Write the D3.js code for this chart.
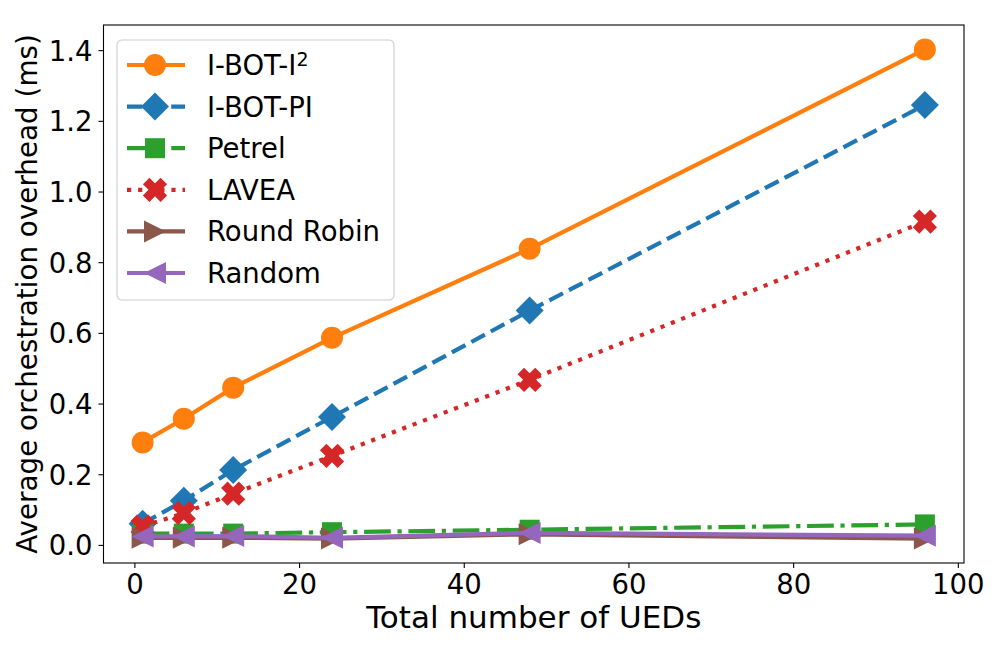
<!DOCTYPE html>
<html>
<head>
<meta charset="utf-8">
<script src="https://cdn.jsdelivr.net/npm/d3@7"></script>
<style>
  body { margin: 0; background: white; }
  svg text { font-family: "DejaVu Sans", sans-serif; fill: black; }
</style>
</head>
<body>
<div id="graf"></div>
<script>
// Datos
const ueds = [1, 6, 12, 24, 48, 96]
const ibotI2 = [0.29, 0.357, 0.445, 0.586, 0.838, 1.402]
const ibotPI = [0.06, 0.125, 0.212, 0.362, 0.663, 1.245]
const petrel = [0.032, 0.032, 0.032, 0.036, 0.043, 0.058]
const lavea = [0.052, 0.09, 0.145, 0.252, 0.467, 0.915]
const roundRobin = [0.02, 0.02, 0.02, 0.018, 0.03, 0.018]
const random = [0.024, 0.024, 0.025, 0.02, 0.034, 0.026]
const xTicks = [0, 20, 40, 60, 80, 100]
const yTicks = [0, 0.2, 0.4, 0.6, 0.8, 1.0, 1.2, 1.4]

const series = [
  { name: "I-BOT-I", sup: "2", values: ibotI2, color: "#ff7f0e", dash: null, marker: "circle" },
  { name: "I-BOT-PI", values: ibotPI, color: "#1f77b4", dash: "15.4,6.7", marker: "diamond" },
  { name: "Petrel", values: petrel, color: "#2ca02c", dash: "26.7,6.7,4.2,6.7", marker: "square" },
  { name: "LAVEA", values: lavea, color: "#d62728", dash: "4.2,6.9", marker: "x" },
  { name: "Round Robin", values: roundRobin, color: "#8c564b", dash: null, marker: "right" },
  { name: "Random", values: random, color: "#9467bd", dash: null, marker: "left" },
]

// Dimensiones
const anchoTotal = 1000
const altoTotal = 650
const margins = { top: 25, right: 36, bottom: 87, left: 103.5 }
const ancho = anchoTotal - margins.left - margins.right
const alto = altoTotal - margins.top - margins.bottom
const grosor = 4.2

const svg = d3.select("#graf")
  .append("svg")
  .attr("width", anchoTotal)
  .attr("height", altoTotal)

const g = svg.append("g")
  .attr("transform", `translate(${margins.left}, ${margins.top})`)

// Escaladores (margen de 5% como matplotlib)
const x = d3.scaleLinear().domain([-3.75, 100.75]).range([0, ancho])
const allY = series.flatMap((s) => s.values)
const yMin = d3.min(allY), yMax = d3.max(allY)
const pad = (yMax - yMin) * 0.05
const y = d3.scaleLinear().domain([yMin - pad, yMax + pad]).range([alto, 0])

// Marcadores
const markerPath = (type) => {
  if (type === "circle") return d3.arc()({ innerRadius: 0, outerRadius: 11, startAngle: 0, endAngle: 2 * Math.PI })
  if (type === "square") return "M-10,-10H10V10H-10Z"
  if (type === "diamond") return "M0,-14L14,0L0,14L-14,0Z"
  if (type === "right") return "M11,0L-11,-11L-11,11Z"
  if (type === "left") return "M-11,0L11,-11L11,11Z"
  if (type === "x") {
    const h = 12.5, t = 4.6
    const pts = [[t, h], [-t, h], [-t, t], [-h, t], [-h, -t], [-t, -t], [-t, -h], [t, -h], [t, -t], [h, -t], [h, t], [t, t]]
    const c = Math.SQRT1_2
    return "M" + pts.map(([a, b]) => [(a - b) * c, (a + b) * c].map((v) => v.toFixed(2)).join(",")).join("L") + "Z"
  }
}

// Ejes
const xAxis = d3.axisBottom(x).tickValues(xTicks).tickSize(5).tickPadding(6).tickFormat(d3.format("d"))
const yAxis = d3.axisLeft(y).tickValues(yTicks).tickSize(5).tickPadding(6).tickFormat(d3.format(".1f"))

const xAxisGroup = g.append("g").attr("transform", `translate(0, ${alto})`).call(xAxis)
const yAxisGroup = g.append("g").call(yAxis)
;[xAxisGroup, yAxisGroup].forEach((ax) => {
  ax.select(".domain").remove()
  ax.selectAll("line").attr("stroke", "black").attr("stroke-width", 1.1)
  ax.selectAll("text").style("font-size", "27.5px").style("font-family", "DejaVu Sans")
})
xAxisGroup.selectAll("text").attr("dy", "0.71em")
yAxisGroup.selectAll("text").attr("dy", "0.36em")

// Lineas
const linea = d3.line().x((d, i) => x(ueds[i])).y((d) => y(d))
series.forEach((s) => {
  g.append("path")
    .datum(s.values)
    .attr("d", linea)
    .attr("fill", "none")
    .attr("stroke", s.color)
    .attr("stroke-width", grosor)
    .attr("stroke-dasharray", s.dash)
  g.selectAll(null)
    .data(s.values)
    .enter()
    .append("path")
    .attr("d", markerPath(s.marker))
    .attr("transform", (d, i) => `translate(${x(ueds[i])}, ${y(d)})`)
    .attr("fill", s.color)
})

// Marco
g.append("rect")
  .attr("width", ancho)
  .attr("height", alto)
  .attr("fill", "none")
  .attr("stroke", "black")
  .attr("stroke-width", 1.1)

// Titulos de ejes
svg.append("text")
  .attr("x", margins.left + ancho / 2)
  .attr("y", 628)
  .attr("text-anchor", "middle")
  .style("font-size", "31px")
  .text("Total number of UEDs")

svg.append("text")
  .attr("transform", `translate(36.5, ${margins.top + alto / 2}) rotate(-90)`)
  .attr("text-anchor", "middle")
  .style("font-size", "27.8px")
  .text("Average orchestration overhead (ms)")

// Leyenda
const leyenda = svg.append("g").attr("transform", "translate(117, 40)")
leyenda.append("rect")
  .attr("width", 277)
  .attr("height", 260)
  .attr("rx", 5)
  .attr("fill", "white")
  .attr("fill-opacity", 0.8)
  .attr("stroke", "#cccccc")
  .attr("stroke-width", 1.1)

series.forEach((s, i) => {
  const item = leyenda.append("g").attr("transform", `translate(0, ${25 + i * 41.6})`)
  item.append("line")
    .attr("x1", 10).attr("x2", 68)
    .attr("stroke", s.color)
    .attr("stroke-width", grosor)
    .attr("stroke-dasharray", s.dash)
  item.append("path")
    .attr("d", markerPath(s.marker))
    .attr("transform", "translate(38, 0)")
    .attr("fill", s.color)
  const t = item.append("text")
    .attr("x", 90)
    .attr("dy", "0.36em")
    .style("font-size", "27.5px")
    .text(s.name)
  if (s.sup) {
    t.append("tspan").attr("dy", "-0.45em").style("font-size", "19px").text(s.sup)
  }
})
</script>
</body>
</html>
